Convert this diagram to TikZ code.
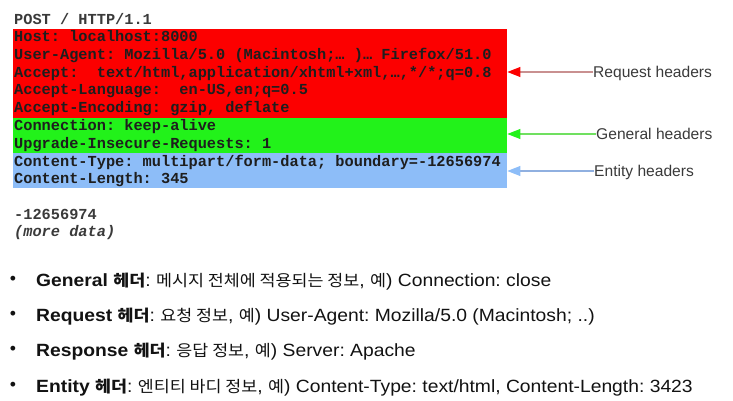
\documentclass[tikz,border=0pt]{standalone}
\usepackage{fontspec}
\usepackage{graphicx}
\setmainfont{Liberation Sans}
\setmonofont{Liberation Mono}
\newfontfamily\kr[Scale=0.90]{Noto Sans CJK KR}
\usetikzlibrary{arrows.meta}
\frenchspacing
\definecolor{reqred}{HTML}{FC0000}
\definecolor{genGreen}{HTML}{22F21A}
\definecolor{entBlue}{HTML}{8DBDF8}
\definecolor{reqLine}{HTML}{C99090}
\definecolor{genLine}{HTML}{70E060}
\definecolor{entLine}{HTML}{90B0E0}
\definecolor{monoText}{HTML}{1E1E1E}
\definecolor{labText}{HTML}{3A3A3A}
\newcommand\K[1]{{\kr #1}}
\newcommand\wide[1]{\scalebox{1.09}[1]{#1}}
\tikzset{
  band/.style={anchor=north west, inner sep=0, minimum width=494pt, draw=none},
  mono/.style={anchor=base west, inner sep=0, text=monoText, font=\ttfamily\bfseries\fontsize{15.3}{17.8}\selectfont},
  lab/.style={anchor=west, inner sep=0, text=labText, text height=12pt, text depth=1pt, font=\fontsize{15.6}{18}\selectfont},
  bul/.style={anchor=base west, inner sep=0, text=black!93, font=\fontsize{17.7}{20}\selectfont},
  dot/.style={anchor=center, inner sep=0, text=black!93, font=\fontsize{17.7}{20}\selectfont},
  pointer/.style={line width=1.1pt}
}
\begin{document}
\begin{tikzpicture}[x=1pt,y=-1pt]
\useasboundingbox (0,0) rectangle (733,401);
% colour bands
\node[band, fill=reqred, minimum height=88.5pt] (req) at (13,29) {};
\node[band, fill=genGreen, minimum height=35pt] (gen) at (13,117.5) {};
\node[band, fill=entBlue, minimum height=35pt] (ent) at (13,152.5) {};
% request text
\node[mono, text=labText] (l0) at (14,25) {POST / HTTP/1.1};
\node[mono] (l1) at (14,41.5) {Host: localhost:8000};
\node[mono] (l2) at (14,59.3) {User-Agent: Mozilla/5.0 (Macintosh;… )… Firefox/51.0};
\node[mono] (l3) at (14,77.1) {Accept:~ text/html,application/xhtml+xml,…,*/*;q=0.8};
\node[mono] (l4) at (14,94.9) {Accept-Language:~ en-US,en;q=0.5};
\node[mono] (l5) at (14,112.7) {Accept-Encoding: gzip, deflate};
\node[mono] (l6) at (14,130.5) {Connection: keep-alive};
\node[mono] (l7) at (14,148.3) {Upgrade-Insecure-Requests: 1};
\node[mono] (l8) at (14,166.1) {Content-Type: multipart/form-data; boundary=-12656974};
\node[mono] (l9) at (14,183.9) {Content-Length: 345};
\node[mono, text=labText] (l10) at (14,219) {-12656974};
\node[mono, text=labText, font=\ttfamily\bfseries\itshape\fontsize{15.3}{17.8}\selectfont] (l11) at (14,236) {(more data)};
% labels and pointers
\node[lab] (reqlab) at (593,72) {Request headers};
\node[lab] (genlab) at (596,134) {General headers};
\node[lab] (entlab) at (594,171) {Entity headers};
\draw[pointer, reqLine, -{Triangle[length=13pt,width=10pt,color=reqred,fill=reqred]}] (reqlab.west) -- (reqlab.west -| req.east);
\draw[pointer, genLine, -{Triangle[length=13pt,width=10pt,color=genGreen,fill=genGreen]}] (genlab.west) -- (genlab.west -| gen.east);
\draw[pointer, entLine, -{Triangle[length=13pt,width=10pt,color=entBlue,fill=entBlue]}] (entlab.west) -- (entlab.west -| ent.east);
% bullets
\node[dot] (d1) at (13,280) {•};
\node[dot] (d2) at (13,315) {•};
\node[dot] (d3) at (13,350.5) {•};
\node[dot] (d4) at (13,386) {•};
\node[bul] (b1) at (36,286) {\wide{\textbf{General \K{헤더}}: \K{메시지 전체에 적용되는 정보}, \K{예}) Connection: close}};
\node[bul] (b2) at (36,321) {\wide{\textbf{Request \K{헤더}}: \K{요청 정보}, \K{예}) User-Agent: Mozilla/5.0 (Macintosh; ..)}};
\node[bul] (b3) at (36,356.5) {\wide{\textbf{Response \K{헤더}}: \K{응답 정보}, \K{예}) Server: Apache}};
\node[bul] (b4) at (36,392) {\wide{\textbf{Entity \K{헤더}}: \K{엔티티 바디 정보}, \K{예}) Content-Type: text/html, Content-Length: 3423}};
\end{tikzpicture}
\end{document}
